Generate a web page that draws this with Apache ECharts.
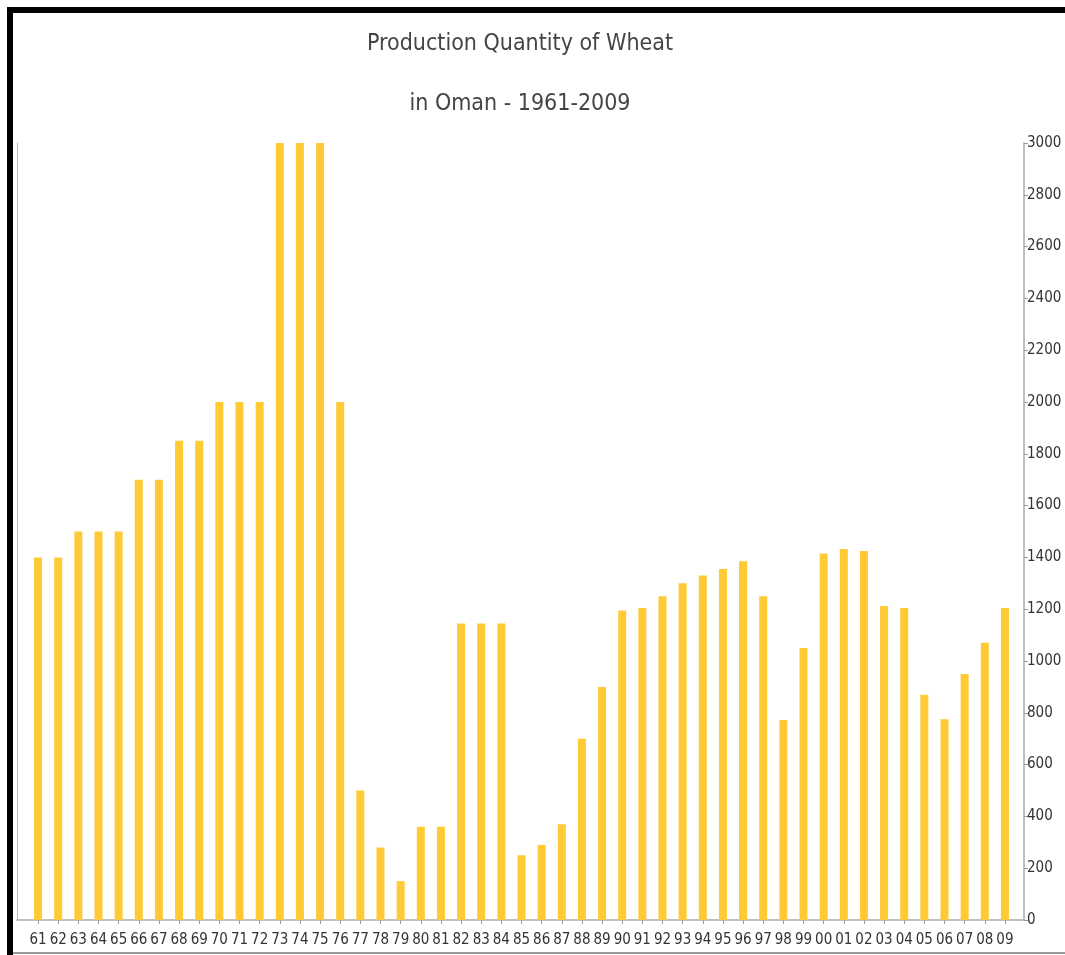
<!DOCTYPE html>
<html>
<head>
<meta charset="utf-8">
<script src="https://cdn.jsdelivr.net/npm/echarts@6/dist/echarts.min.js"></script>
<style>
html,body{margin:0;padding:0;background:#fff;}
#chart{width:1065px;height:955px;}
</style>
</head>
<body>
<div id="chart"></div>
<script>
const titleLines = ['Production Quantity of Wheat', 'in Oman - 1961-2009'];
const years = ['61','62','63','64','65','66','67','68','69','70','71','72','73','74','75','76','77','78','79','80','81','82','83','84','85','86','87','88','89','90','91','92','93','94','95','96','97','98','99','00','01','02','03','04','05','06','07','08','09'];
const production = [1400,1400,1500,1500,1500,1700,1700,1850,1850,2000,2000,2000,3000,3000,3000,2000,500,280,150,360,360,1145,1145,1145,250,290,370,700,900,1195,1205,1250,1300,1330,1355,1385,1250,772,1050,1415,1432,1425,1212,1205,870,775,950,1070,1205];
const yTicks = {min: 0, max: 3000, interval: 200};

const FONT = '"Liberation Sans Narrow", "DejaVu Sans Condensed", "Liberation Sans", sans-serif';
const chart = echarts.init(document.getElementById('chart'));
chart.setOption({
  animation: false,
  backgroundColor: '#fff',
  title: {
    text: titleLines.join('\n'),
    left: 515,
    textAlign: 'center',
    top: 9,
    textStyle: {fontFamily: FONT, fontSize: 23, fontWeight: 'normal', color: '#444', lineHeight: 60}
  },
  grid: [
    {left: 17, right: 41, top: 143, bottom: 35, containLabel: false},
    {left: 28, right: 50, top: 143, bottom: 35, containLabel: false}
  ],
  xAxis: [{
    gridIndex: 0,
    type: 'category',
    data: years,
    axisLine: {show: true, lineStyle: {color: '#aaa', width: 1.5}},
    axisTick: {show: false},
    axisLabel: {show: false},
    splitLine: {show: false}
  }, {
    gridIndex: 1,
    type: 'category',
    data: years,
    axisLine: {show: false},
    axisTick: {show: true, alignWithLabel: true, length: 4, lineStyle: {color: '#999'}},
    axisLabel: {interval: 0, margin: 13, fontFamily: FONT, fontSize: 15, color: '#333'},
    splitLine: {show: false}
  }],
  yAxis: [{
    gridIndex: 0,
    type: 'value',
    position: 'right',
    min: yTicks.min, max: yTicks.max, interval: yTicks.interval,
    axisLine: {show: true, lineStyle: {color: '#aaa', width: 1.5}},
    axisTick: {show: true, length: 4, lineStyle: {color: '#999'}},
    axisLabel: {margin: 3, fontFamily: FONT, fontSize: 15, color: '#333', formatter: v => String(v)},
    splitLine: {show: false}
  }, {
    gridIndex: 0,
    type: 'value',
    position: 'left',
    min: yTicks.min, max: yTicks.max, interval: yTicks.interval,
    axisLine: {show: true, lineStyle: {color: '#bbb', width: 1}},
    axisTick: {show: false},
    axisLabel: {show: false},
    splitLine: {show: false}
  }, {
    gridIndex: 1,
    type: 'value',
    min: yTicks.min, max: yTicks.max, interval: yTicks.interval,
    axisLine: {show: false},
    axisTick: {show: false},
    axisLabel: {show: false},
    splitLine: {show: false}
  }],
  series: [{
    type: 'bar',
    data: production,
    barWidth: 8,
    itemStyle: {color: '#FFCA35'},
    xAxisIndex: 1,
    yAxisIndex: 2
  }],
  graphic: [
    {type: 'rect', shape: {x: 7, y: 7, width: 1058, height: 6}, style: {fill: '#000'}, silent: true},
    {type: 'rect', shape: {x: 7, y: 7, width: 6, height: 948}, style: {fill: '#000'}, silent: true},
    {type: 'rect', shape: {x: 13, y: 952, width: 1052, height: 2}, style: {fill: '#999'}, silent: true}
  ]
});
</script>
</body>
</html>
